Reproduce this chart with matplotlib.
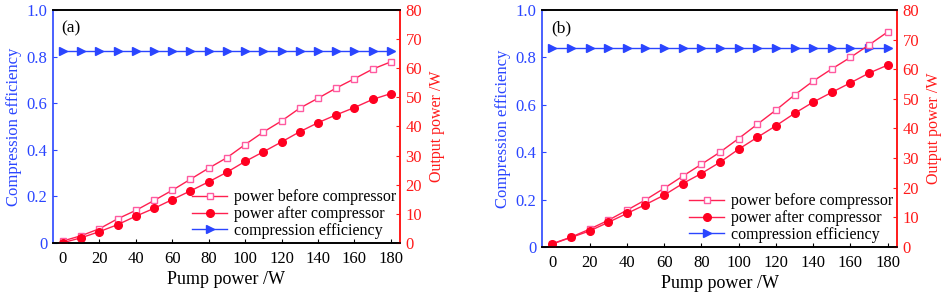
import matplotlib
matplotlib.use("Agg")
import matplotlib.pyplot as plt

plt.rcParams['font.family'] = ['Liberation Serif', 'DejaVu Serif']

pump = [0, 10, 20, 30, 40, 50, 60, 70, 80, 90, 100, 110, 120, 130, 140, 150, 160, 170, 180]

a_before = [0.7, 2.5, 4.9, 8.3, 11.2, 14.6, 18.1, 21.9, 25.7, 29.3, 33.8, 38.1, 41.9, 46.3, 49.7, 53.2, 56.4, 59.7, 62.2]
a_after = [0.1, 1.8, 3.9, 6.3, 9.2, 11.9, 14.9, 17.9, 21.0, 24.3, 28.0, 31.3, 34.7, 38.2, 41.3, 44.0, 46.5, 49.3, 51.3]
a_eff = [0.822] * 19

b_before = [1.1, 3.3, 6.0, 9.0, 12.4, 15.9, 19.8, 23.9, 27.9, 32.0, 36.6, 41.4, 46.2, 51.3, 56.0, 60.1, 64.0, 68.2, 72.6]
b_after = [1.0, 3.2, 5.4, 8.3, 11.3, 14.3, 17.5, 21.4, 24.8, 28.6, 33.0, 37.0, 40.9, 45.1, 48.9, 52.2, 55.4, 58.7, 61.4]
b_eff = [0.841] * 19

panels = ["(a)", "(b)"]
xticks = [0, 20, 40, 60, 80, 100, 120, 140, 160, 180]
yticks_l = [0, 0.2, 0.4, 0.6, 0.8, 1.0]
yticklabels_l = ["0", "0.2", "0.4", "0.6", "0.8", "1.0"]
yticks_r = [0, 10, 20, 30, 40, 50, 60, 70, 80]

BLUE = "#2a45ff"
RED = "#ff1a1a"
LINE = "#ff2050"
PINK = "#ff5aa0"
FS = 12

fig = plt.figure(figsize=(9.44, 2.94), dpi=100)
positions = [[0.0561, 0.1735, 0.3676, 0.7925], [0.5742, 0.160, 0.3760, 0.806]]
data = [(a_before, a_after, a_eff), (b_before, b_after, b_eff)]

for pos, (bef, aft, eff), lab in zip(positions, data, panels):
    ax = fig.add_axes(pos)
    ax2 = ax.twinx()
    ax.set_xlim(-5.5, 185)
    ax.set_ylim(0, 1.0)
    ax2.set_ylim(0, 80)

    l3, = ax.plot(pump, eff, color=BLUE, lw=1.0, marker='>', ms=6,
                  mfc=BLUE, mec=BLUE, label="compression efficiency")
    l1, = ax2.plot(pump, bef, color=LINE, lw=1.0, marker='s', ms=4.5,
                   mfc='white', mec=PINK, mew=1.0, label="power before compressor")
    l2, = ax2.plot(pump, aft, color=LINE, lw=1.0, marker='o', ms=5.5,
                   mfc='#ff0020', mec='#ff0020', label="power after compressor")

    ax.set_xticks(xticks)
    ax.set_yticks(yticks_l)
    ax.set_yticklabels(yticklabels_l)
    ax2.set_yticks(yticks_r)

    ax.tick_params(axis='x', direction='in', length=3, labelsize=FS, colors='black', pad=6)
    ax.tick_params(axis='y', direction='in', length=3, labelsize=FS, colors=BLUE, pad=4)
    ax2.tick_params(axis='y', direction='in', length=3, labelsize=FS, colors=RED, pad=4)

    for a in (ax, ax2):
        a.spines['top'].set_color('black')
        a.spines['bottom'].set_color('black')
        a.spines['left'].set_color(BLUE)
        a.spines['right'].set_color(RED)
        for s in a.spines.values():
            s.set_linewidth(1.2)
    ax2.spines['left'].set_visible(False)

    ax.set_xlabel("Pump power /W", fontsize=13, labelpad=3)
    ax.set_ylabel("Compression efficiency", fontsize=12, color=BLUE, labelpad=3)
    ax2.set_ylabel("Output power /W", fontsize=11.5, color=RED, labelpad=5)

    ax.text(0.025, 0.955, lab, transform=ax.transAxes, fontsize=12.5, va='top', ha='left')

    leg = ax2.legend([l1, l2, l3], [l.get_label() for l in (l1, l2, l3)],
                     loc='lower right', frameon=False, fontsize=11.5,
                     handlelength=2.2, handletextpad=0.4, labelspacing=0.05,
                     borderaxespad=0.05, borderpad=0.2)

fig.savefig("out.png", dpi=100)
